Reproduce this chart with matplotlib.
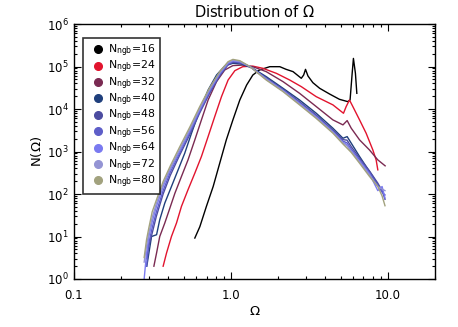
import matplotlib
matplotlib.use("Agg")
import matplotlib.pyplot as plt
from matplotlib.ticker import LogLocator, FixedLocator, NullFormatter

plt.rcParams['font.family'] = ['DejaVu Sans']
plt.rcParams['mathtext.fontset'] = 'dejavusans'

labels = ["16", "24", "32", "40", "48", "56", "64", "72", "80"]
colors = ["#000000", "#e2142e", "#7a2a52", "#1f3f7c", "#4c4ca0", "#5e5ec8",
          "#7a7af0", "#9494d4", "#a2a27e"]

x16 = [0.589, 0.634, 0.698, 0.771, 0.849, 0.935, 1.03, 1.14, 1.26, 1.38, 1.52, 1.77,
       2.05, 2.25, 2.49, 2.81, 2.91, 2.99, 3.10, 3.33, 3.68, 4.25, 4.92, 5.56, 5.75,
       5.93, 6.04, 6.22, 6.35]
y16 = [9.2, 17, 51, 150, 531, 1877, 5540, 16300, 36700, 63000, 82800, 99000,
       99000, 85700, 75700, 52800, 63000, 85700, 59800, 41700, 30700, 22600, 16900,
       14900, 16300, 69000, 155000, 69000, 23400]

x24 = [0.370, 0.389, 0.418, 0.450, 0.484, 0.533, 0.589, 0.649, 0.716, 0.789, 0.871,
       0.96, 1.06, 1.19, 1.38, 1.60, 1.95, 2.37, 2.81, 3.50, 4.47, 5.22, 5.43, 5.70,
       5.99, 6.61, 7.28, 8.03, 8.43, 8.64]
y24 = [2.0, 4.1, 10, 20.7, 51, 126, 309, 762, 2250, 6630, 19500, 48100, 79800, 99000,
       102000, 90600, 69000, 48100, 33600, 19500, 12500, 7940, 11400, 16300, 11400,
       5540, 2690, 1090, 635, 370]

x32 = [0.323, 0.336, 0.352, 0.379, 0.405, 0.44, 0.484, 0.533, 0.589, 0.649, 0.716,
       0.81, 0.914, 1.03, 1.19, 1.38, 1.68, 2.15, 2.74, 3.50, 4.47, 5.18, 5.51, 5.85,
       6.61, 7.64, 8.64, 9.62]
y32 = [2.0, 4.1, 10, 20.7, 42.5, 105, 258, 635, 1877, 5540, 16300, 44000, 82800,
       105000, 108000, 99000, 75700, 44000, 23400, 11400, 5540, 4230, 5340, 3530,
       1877, 1090, 635, 460]

x40 = [0.291, 0.305, 0.312, 0.336, 0.352, 0.379, 0.418, 0.461, 0.508, 0.561, 0.634,
       0.716, 0.81, 0.914, 1.03, 1.17, 1.38, 1.68, 2.15, 2.74, 3.50, 4.47, 5.18, 5.51,
       5.85, 6.61, 7.28, 8.03, 8.64, 8.85]
y40 = [2.0, 5.9, 10, 11, 24.8, 61, 150, 370, 912, 2690, 9500, 28000, 63000, 103000,
       119000, 114000, 90600, 57700, 30700, 16300, 7940, 3530, 2050, 2240, 1570, 762,
       444, 258, 164, 137]

xc = [0.28, 0.29, 0.30, 0.315, 0.335, 0.37, 0.41, 0.47, 0.55, 0.63, 0.73, 0.85, 0.96,
      1.03, 1.14, 1.32, 1.68, 2.15, 2.74, 3.50, 4.47, 5.18, 5.50, 5.85, 6.61, 7.64,
      8.64, 9.2, 9.6]
y48 = [None, 3, 6, 12, 30, 100, 270, 800, 2600, 7800, 23000, 61000, 110000, 125000,
       122000, 100000, 54000, 29000, 14800, 7200, 3200, 1900, 1850, 1300, 700, 350,
       180, 120, 75]
y56 = [None, 2, 7, 16, 38, 120, 320, 900, 2900, 8500, 25000, 65000, 115000, 130000,
       126000, 100000, 52000, 28000, 14000, 6800, 3000, 1750, 1600, 1150, 640, 320,
       160, 110, 95]
y64 = [1.0, 4, 10, 22, 50, 150, 370, 1000, 3200, 9300, 27000, 69000, 120000, 135000,
       130000, 100000, 51000, 27000, 13500, 6500, 2900, 1650, 1450, 1050, 590, 300,
       120, 150, 80]
y72 = [2.5, 6, 12, 28, 60, 170, 400, 1100, 3500, 10000, 29000, 72000, 125000, 140000,
       133000, 100000, 50000, 26500, 13000, 6300, 2800, 1600, 1350, 1000, 560, 280,
       150, 130, 120]
y80 = [3.2, 8.4, 16, 38, 72, 197, 450, 1250, 3900, 11000, 31000, 76000, 130000, 147000,
       137000, 100000, 48000, 25600, 12500, 6000, 2700, 1500, 1200, 950, 530, 260,
       150, 90, 53]

series = [(x16, y16), (x24, y24), (x32, y32), (x40, y40)]
for ys in [y48, y56, y64, y72, y80]:
    pts = [(a, b) for a, b in zip(xc, ys) if b is not None]
    series.append(([p[0] for p in pts], [p[1] for p in pts]))

fig = plt.figure(figsize=(4.58, 3.27), dpi=100)
ax = fig.add_axes([74/458, 1 - 279/327, (435-74)/458, (279-24)/327])

for (xs, ys), c in zip(series, colors):
    ax.plot(xs, ys, color=c, lw=1.0)

ax.set_xscale('log')
ax.set_yscale('log')
ax.set_xlim(0.1, 20)
ax.set_ylim(1, 1e6)

ax.xaxis.set_major_locator(FixedLocator([0.1, 1.0, 10.0]))
ax.set_xticklabels(["0.1", "1.0", "10.0"])
ax.xaxis.set_minor_locator(LogLocator(base=10, subs=range(2, 10), numticks=20))
ax.xaxis.set_minor_formatter(NullFormatter())
ax.yaxis.set_major_locator(FixedLocator([10.0**k for k in range(7)]))
ax.set_yticklabels([r"$10^{%d}$" % k for k in range(7)])
ax.yaxis.set_minor_locator(LogLocator(base=10, subs=range(2, 10), numticks=20))
ax.yaxis.set_minor_formatter(NullFormatter())

ax.tick_params(which='both', direction='in', top=True, right=True, labelsize=8.5,
               width=0.8)
ax.tick_params(which='major', length=5)
ax.tick_params(axis='x', which='major', pad=7)
ax.tick_params(axis='y', which='major', pad=4)
ax.tick_params(which='minor', length=2.5)
for s in ax.spines.values():
    s.set_linewidth(1.0)

ax.set_title(r"Distribution of $\Omega$", fontsize=10.5, pad=5)
ax.set_xlabel(r"$\Omega$", fontsize=9.5)
ax.xaxis.set_label_coords((255-74)/361, -(305-279)/255)
ax.set_ylabel(r"N($\Omega$)", fontsize=9.5)
ax.yaxis.set_label_coords(-(74-44)/361, 0.5)

handles = [plt.Line2D([], [], marker='o', ls='none', color=c, markersize=5.5)
           for c in colors]
leg = ax.legend(handles, [r"N$_{\rm ngb}$=" + l for l in labels],
                loc='upper left', bbox_to_anchor=(9/361, 1 - 14/255),
                fontsize=7.8, frameon=True, fancybox=False, handlelength=1.9,
                handletextpad=0.0, labelspacing=0.0, borderpad=0.4,
                borderaxespad=0)
leg.get_frame().set_edgecolor('black')
leg.get_frame().set_linewidth(1.2)

fig.savefig("out.png", dpi=100)
